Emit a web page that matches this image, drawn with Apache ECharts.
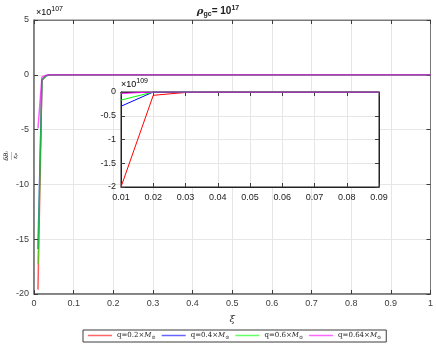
<!DOCTYPE html>
<html>
<head>
<meta charset="utf-8">
<script src="https://cdn.jsdelivr.net/npm/echarts@6/dist/echarts.min.js"></script>
<style>
  html, body { margin: 0; padding: 0; background: #fff; }
  #chart { width: 436px; height: 346px; }
</style>
</head>
<body>
<div id="chart"></div>
<script>
// series names (legend)
const seriesNames = ['q=0.2×M⊙', 'q=0.4×M⊙', 'q=0.6×M⊙', 'q=0.64×M⊙'];
const seriesColors = ['#ff0000', '#0000ff', '#00ff00', '#ff00ff'];

// main plot, values in units of 1e107
const xiMain = [0.01, 0.02, 0.03, 0.04, 0.05, 1.0];
const mainRed = [-19.6, -0.5, -0.1, 0, 0, 0];
const mainBlue = [-15.9, -0.45, -0.1, 0, 0, 0];
const mainGreen = [-17.3, -0.45, -0.1, 0, 0, 0];
const mainMagenta = [-4.9, -0.2, -0.05, 0, 0, 0];

// inset, values in units of 1e109
const xiInset = [0.01, 0.02, 0.03, 0.04, 0.05, 0.06, 0.07, 0.08, 0.09];
const insetRed = [-2.0, -0.07, -0.01, 0, 0, 0, 0, 0, 0];
const insetBlue = [-0.3, 0, 0, 0, 0, 0, 0, 0, 0];
const insetGreen = [-0.17, 0, 0, 0, 0, 0, 0, 0, 0];
const insetMagenta = [-0.03, 0, 0, 0, 0, 0, 0, 0, 0];

const mainTicksX = [0, 1, 0.1];
const mainTicksY = [-20, 5, 5];
const insetTicksX = [0.01, 0.09, 0.01];
const insetTicksY = [-2, 0, 0.5];

const pair = (xs, ys) => xs.map((x, i) => [x, ys[i]]);
const mainData = [mainRed, mainBlue, mainGreen, mainMagenta];
const insetData = [insetRed, insetBlue, insetGreen, insetMagenta];

const font = 'Liberation Sans, Arial, sans-serif';
const labelStyle = { fontFamily: font, fontSize: 9, color: '#3c3c3c' };

const chart = echarts.init(document.getElementById('chart'));

function valAxis(gridIndex, pos, range, opts) {
    return Object.assign({
        type: 'value',
        gridIndex: gridIndex,
        position: pos,
        min: range[0],
        max: range[1],
        interval: range[2],
        axisLine: { show: true, onZero: false, lineStyle: { color: '#7a7a7a', width: 1 } },
        axisTick: { show: true, inside: true, length: 4, lineStyle: { color: '#3c3c3c' } },
        axisLabel: Object.assign({ margin: 5 }, labelStyle),
        splitLine: { show: false }
    }, opts || {});
}

const option = {
    backgroundColor: '#fff',
    animation: false,
    title: {
        text: '{r|ρ}{s|gc}{b|= 10}{p|17}',
        left: 'center',
        top: 0,
        textStyle: {
            rich: {
                r: { fontFamily: 'DejaVu Serif, serif', fontStyle: 'italic', fontSize: 10, color: '#222' },
                s: { fontFamily: font, fontWeight: 'bold', fontSize: 7, color: '#222', padding: [6, 0, 0, 0] },
                b: { fontFamily: font, fontWeight: 'bold', fontSize: 10, color: '#222' },
                p: { fontFamily: font, fontWeight: 'bold', fontSize: 7, color: '#222', padding: [0, 0, 6, 0] }
            }
        }
    },
    legend: {
        data: seriesNames,
        left: 83,
        top: 330,
        width: 303,
        padding: [2, 5, 2, 5],
        itemGap: 6,
        itemWidth: 24,
        itemHeight: 1.5,
        icon: 'rect',
        itemStyle: { opacity: 0.6 },
        borderColor: '#3c3c3c',
        borderWidth: 1,
        backgroundColor: '#fff',
        formatter: name => {
            const q = name.replace('×M⊙', '');
            return '{t|' + q + '×}{m|M}{o|⊙}';
        },
        textStyle: {
            rich: {
                t: { fontFamily: 'DejaVu Serif, serif', fontSize: 7, color: '#222' },
                m: { fontFamily: 'DejaVu Serif, serif', fontStyle: 'italic', fontSize: 7, color: '#222' },
                o: { fontFamily: 'DejaVu Serif, serif', fontSize: 5, color: '#222', padding: [4, 0, 0, 0] }
            }
        }
    },
    grid: [
        { left: 34, right: 3, top: 20, bottom: 52, show: true, borderColor: '#7a7a7a', borderWidth: 1 },
        { left: 121, top: 92, width: 258, height: 95, show: true, borderColor: '#222', borderWidth: 1, backgroundColor: '#fff', z: 10 }
    ],
    xAxis: [
        valAxis(0, 'bottom', mainTicksX, {
            name: 'ξ', nameLocation: 'middle', nameGap: 20,
            nameTextStyle: { fontFamily: 'DejaVu Serif, serif', fontStyle: 'italic', fontSize: 10, color: '#333' },
            splitLine: { show: true, lineStyle: { color: '#e6e6e6' } },
            axisLine: { show: true, onZero: false, lineStyle: { color: '#6e6e6e', width: 1.5 } }
        }),
        valAxis(0, 'top', mainTicksX, { axisLabel: { show: false } }),
        valAxis(1, 'bottom', insetTicksX, {
            axisLine: { show: true, onZero: false, lineStyle: { color: '#222', width: 1 } },
            splitLine: { show: true, lineStyle: { color: '#e6e6e6' } },
            axisLabel: Object.assign({ margin: 6 }, labelStyle, { color: '#222' }),
            z: 10
        }),
        valAxis(1, 'top', insetTicksX, { axisLabel: { show: false }, axisLine: { show: true, onZero: false, lineStyle: { color: '#222' } }, z: 10 })
    ],
    yAxis: [
        valAxis(0, 'left', mainTicksY, {
            splitLine: { show: true, lineStyle: { color: '#e6e6e6' } },
            axisLine: { show: true, onZero: false, lineStyle: { color: '#6e6e6e', width: 1.5 } }
        }),
        valAxis(0, 'right', mainTicksY, { axisLabel: { show: false } }),
        valAxis(1, 'left', insetTicksY, {
            axisLine: { show: true, onZero: false, lineStyle: { color: '#222', width: 1 } },
            splitLine: { show: true, lineStyle: { color: '#e6e6e6' } },
            axisLabel: Object.assign({ margin: 5 }, labelStyle, { color: '#222' }),
            z: 10
        }),
        valAxis(1, 'right', insetTicksY, { axisLabel: { show: false }, axisLine: { show: true, onZero: false, lineStyle: { color: '#222' } }, z: 10 })
    ],
    series: [],
    graphic: [
        {
            type: 'text', left: 36, top: 6, z: 20,
            style: {
                text: '{a|×10}{b|107}',
                rich: {
                    a: { fontFamily: font, fontSize: 9, color: '#3c3c3c' },
                    b: { fontFamily: font, fontSize: 7, color: '#3c3c3c', padding: [0, 0, 6, 0] }
                }
            }
        },
        {
            type: 'text', left: 121, top: 78, z: 20,
            style: {
                text: '{a|×10}{b|109}',
                rich: {
                    a: { fontFamily: font, fontSize: 9, color: '#222' },
                    b: { fontFamily: font, fontSize: 7, color: '#222', padding: [0, 0, 6, 0] }
                }
            }
        },
        {
            type: 'text', x: 11, y: 156, rotation: Math.PI / 2, z: 20,
            style: {
                text: '{n|δBᵢ}\n{l|——}\n{d|εₚ}',
                align: 'center', verticalAlign: 'middle',
                rich: {
                    n: { fontFamily: 'DejaVu Serif, serif', fontStyle: 'italic', fontSize: 6, color: '#777', align: 'center', lineHeight: 6 },
                    l: { fontFamily: font, fontSize: 4, color: '#777', align: 'center', lineHeight: 3 },
                    d: { fontFamily: 'DejaVu Serif, serif', fontStyle: 'italic', fontSize: 6, color: '#777', align: 'center', lineHeight: 6 }
                }
            }
        }
    ]
};

seriesNames.forEach((name, i) => {
    option.series.push({
        name: name,
        type: 'line',
        xAxisIndex: 0,
        yAxisIndex: 0,
        data: pair(xiMain, mainData[i]),
        symbol: 'none',
        color: seriesColors[i],
        lineStyle: { width: 1.5, opacity: 0.65 },
        z: 2
    });
});
seriesNames.forEach((name, i) => {
    option.series.push({
        name: name,
        type: 'line',
        xAxisIndex: 2,
        yAxisIndex: 2,
        data: pair(xiInset, insetData[i]),
        symbol: 'none',
        color: seriesColors[i],
        lineStyle: { width: 1 },
        z: 12
    });
});

chart.setOption(option);
</script>
</body>
</html>
